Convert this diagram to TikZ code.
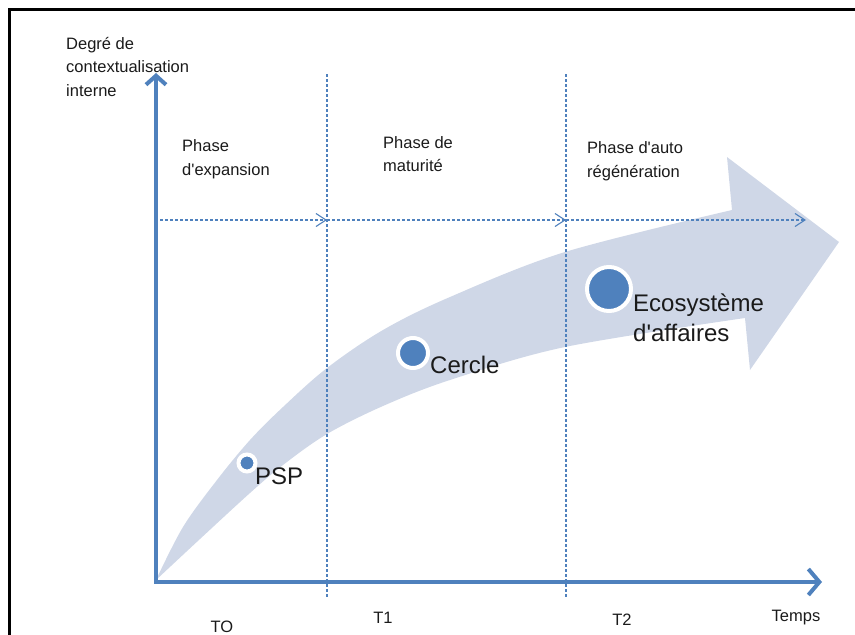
\documentclass[tikz,border=0pt]{standalone}
\usepackage{fontspec}
\setmainfont{Liberation Sans}
\usetikzlibrary{arrows.meta, positioning, calc}
\definecolor{Axis_Blue}{HTML}{4F81BD}
\definecolor{Band_Blue}{HTML}{CFD7E7}
\definecolor{Label_Ink}{HTML}{1A1A1A}

\begin{document}
\begin{tikzpicture}[x=1pt, y=-1pt,
  axis/.style={draw=Axis_Blue, line width=4pt},
  guide/.style={draw=Axis_Blue, line width=1.1pt, dash pattern=on 3pt off 2pt},
  phase/.style={font=\fontsize{16.5}{23.5}\selectfont, align=left, anchor=west, inner sep=0pt, text=Label_Ink},
  tick/.style={font=\fontsize{16.5}{23.5}\selectfont, inner sep=0pt, text=Label_Ink},
  stage/.style={circle, fill=Axis_Blue, draw=white, line width=4pt, inner sep=0pt},
  stagelabel/.style={font=\fontsize{24}{30}\selectfont, align=left, anchor=west, inner sep=0pt, text=Label_Ink}]
\useasboundingbox (0,0) rectangle (855,635);
% --- Frame ---
\draw[line width=3pt] (9,635) -- (9,9) -- (855,9);
% --- Growth band (curved arrow) ---
\fill[Band_Blue] plot[smooth, tension=0.55] coordinates {(156,580) (183,527) (217,480) (250,440) (283,407) (327,368) (383,330) (450,297) (565,252) (732,210)}
  -- (727,157) -- (839,242) -- (750,370)
  -- plot[smooth, tension=0.55] coordinates {(745,318) (565,347) (450,380) (383,406) (327,434) (283,465) (250,493) (200,539) (156,580)}
  -- cycle;
% --- Axes ---
\coordinate (origin) at (156,582);
\coordinate (ytop) at (156,73);
\coordinate (xend) at (822,582);
\draw[axis, {Straight Barb[length=9pt, width=20pt]}-{Straight Barb[length=11pt, width=26pt]}] (ytop) -- (origin) -- (xend);
% --- Phase limits ---
\foreach \name/\x in {t1/327, t2/566} {
  \coordinate (\name top) at (\x,74);
  \coordinate (\name bot) at (\x,598);
  \draw[guide] (\name top) -- (\name bot);
}
% Phase arrows
\coordinate (g0) at (160,220);
\coordinate (g1) at (327,220);
\coordinate (g2) at (566,220);
\coordinate (g3) at (806,220);
\foreach \a/\b in {g0/g1, g1/g2, g2/g3}
  \draw[guide, -{Straight Barb[length=10pt, width=13pt, line width=1.1pt]}] (\a) -- (\b);
% --- Axis texts ---
\node[phase] (ylabel) at (66,67) {Degré de\\contextualisation\\interne};
\node[phase] (phaseexp) at (182,159) {Phase\\d\textquotesingle expansion};
\node[phase] (phasemat) at (383,154) {Phase de\\maturité};
\node[phase] (phaseregen) at (587,161) {Phase d\textquotesingle auto\\régénération};
\node[tick] (t0) at (222,627) {TO};
\node[tick] (t1) at (383,618) {T1};
\node[tick] (t2) at (622,620) {T2};
\node[tick] (temps) at (796,618) {Temps};
% --- Stages ---
\node[stage, minimum size=17pt] (psp) at (247,463) {};
\node[stage, minimum size=30pt] (cercle) at (413,353) {};
\node[stage, minimum size=44pt] (ecosys) at (609,289) {};
\node[stagelabel] (psplabel) at (255,476) {PSP};
\node[stagelabel] (cerclelabel) at (430,365) {Cercle};
\node[stagelabel] (ecosyslabel) at (633,318) {Ecosystème\\d\textquotesingle affaires};
\end{tikzpicture}
\end{document}
